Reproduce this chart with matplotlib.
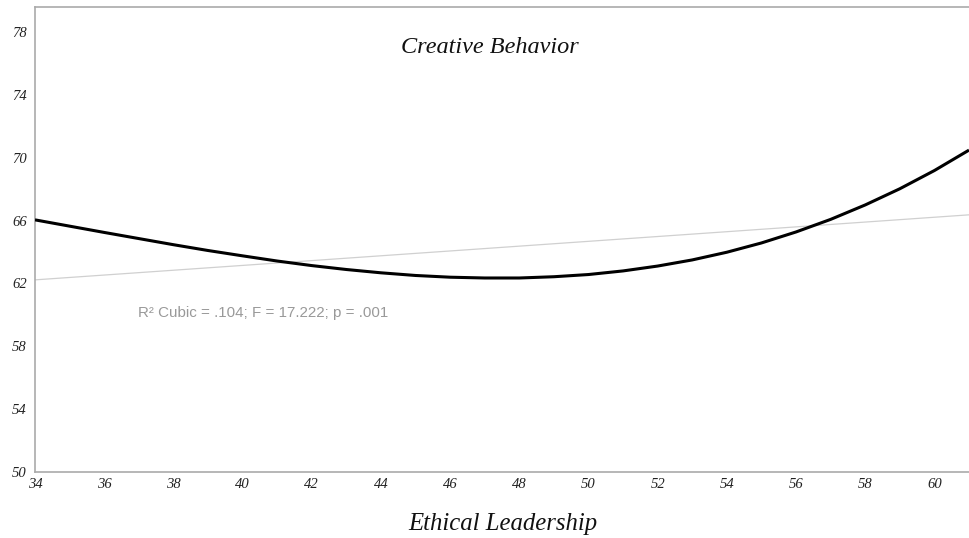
import matplotlib
matplotlib.use("Agg")
import matplotlib.pyplot as plt

# Data
x_vals = list(range(34, 62))
cubic_vals = [66.05, 65.65, 65.25, 64.86, 64.47, 64.10, 63.76, 63.43, 63.14, 62.89,
              62.68, 62.51, 62.40, 62.35, 62.35, 62.43, 62.57, 62.80, 63.11, 63.50,
              63.99, 64.58, 65.28, 66.08, 67.00, 68.03, 69.19, 70.49]
linear_x = [34, 61]
linear_y = [62.23, 66.37]
x_ticks = list(range(34, 61, 2))
y_ticks = list(range(50, 79, 4))
title_text = "Creative Behavior"
xlabel_text = "Ethical Leadership"
annot_text = "R² Cubic = .104; F = 17.222; p = .001"

fig = plt.figure(figsize=(9.69, 5.38), dpi=100)
ax = fig.add_axes([35/969, 66/538, 934/969, 465/538])

ax.plot(linear_x, linear_y, color="#d0d0d0", lw=0.9, zorder=2)
ax.plot(x_vals, cubic_vals, color="black", lw=2.2, zorder=3,
        solid_joinstyle="round", solid_capstyle="butt")

ax.set_xlim(34, 61)
ax.set_ylim(50, 79.6)
ax.set_xticks(x_ticks)
ax.set_yticks(y_ticks)
ax.tick_params(length=0)
ax.tick_params(axis="y", pad=6)
ax.tick_params(axis="x", pad=4)
for lbl in ax.get_xticklabels() + ax.get_yticklabels():
    lbl.set_fontfamily("Liberation Serif")
    lbl.set_fontstyle("italic")
    lbl.set_fontsize(10.5)
    lbl.set_color("#222222")

for s in ["left", "bottom", "top"]:
    ax.spines[s].set_color("#aaaaaa")
    ax.spines[s].set_linewidth(1.2)
ax.spines["right"].set_visible(False)

ax.text(0.487, 0.913, title_text, transform=ax.transAxes, ha="center", va="center",
        fontfamily="Liberation Serif", fontstyle="italic", fontsize=17.5, color="#111111")
fig.text(503/969, 1 - 524/538, xlabel_text, ha="center", va="center",
         fontfamily="Liberation Serif", fontstyle="italic", fontsize=17.8, color="#111111")
ax.text(36.98, 60.13, annot_text, ha="left", va="center",
        fontfamily="Liberation Sans", fontsize=10.9, color="#999999")

fig.savefig("out.png", dpi=100)
